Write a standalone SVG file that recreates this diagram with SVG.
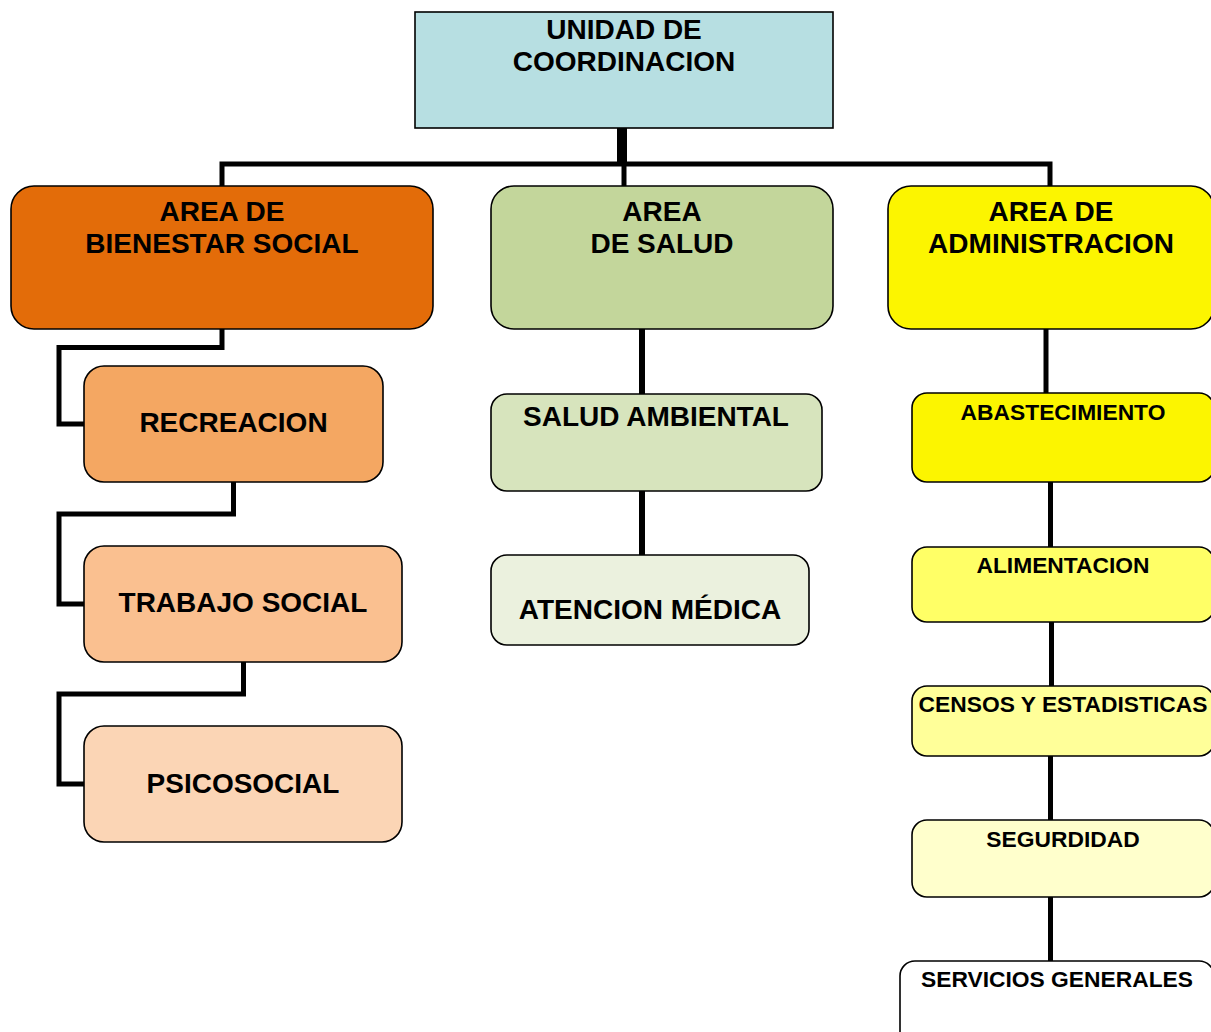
<svg xmlns="http://www.w3.org/2000/svg" width="1211" height="1032" viewBox="0 0 1211 1032">
<style>
.box{stroke:#000;stroke-width:1.6}
.t{font-family:"Liberation Sans",Arial,sans-serif;font-weight:bold;fill:#000;text-anchor:middle}
.big{font-size:28px}
.sm{font-size:22.8px}
.c{fill:none;stroke:#000;stroke-width:5;stroke-linejoin:miter;stroke-linecap:butt}
</style>
<rect width="1211" height="1032" fill="#fff"/>
<g id="connectors">
<rect x="617" y="128" width="10" height="36" fill="#000"/>
<path class="c" d="M624,164 V186"/>
<path class="c" d="M222,186 V164 H1050 V186"/>
<path class="c" d="M222,329 V347.5 H59 V424 H84"/>
<path class="c" d="M233.5,482 V514 H59 V604 H84"/>
<path class="c" d="M243.5,662 V694 H59 V784 H84"/>
<path class="c" style="stroke-width:6" d="M642,329 V394"/>
<path class="c" style="stroke-width:6" d="M642,491 V555"/>
<path class="c" d="M1046,329 V393"/>
<path class="c" d="M1050.5,482 V547"/>
<path class="c" d="M1051.5,622 V686"/>
<path class="c" d="M1050.5,756 V820"/>
<path class="c" d="M1050.5,897 V961"/>
</g>
<g id="unidad">
<rect class="box" x="415" y="12" width="418" height="116" fill="#B7DFE2"/>
<text class="t big" x="624" y="39">UNIDAD DE</text>
<text class="t big" x="624" y="71">COORDINACION</text>
</g>
<g id="bienestar">
<rect class="box" x="11" y="186" width="422" height="143" rx="23" fill="#E36C09"/>
<text class="t big" x="222" y="221">AREA DE</text>
<text class="t big" x="222" y="253">BIENESTAR SOCIAL</text>
</g>
<g id="salud">
<rect class="box" x="491" y="186" width="342" height="143" rx="23" fill="#C3D69B"/>
<text class="t big" x="662" y="221">AREA</text>
<text class="t big" x="662" y="253">DE SALUD</text>
</g>
<g id="administracion">
<rect class="box" x="888" y="186" width="326" height="143" rx="23" fill="#FCF500"/>
<text class="t big" x="1051" y="221">AREA DE</text>
<text class="t big" x="1051" y="253">ADMINISTRACION</text>
</g>
<g id="recreacion">
<rect class="box" x="84" y="366" width="299" height="116" rx="20" fill="#F4A762"/>
<text class="t big" x="233.5" y="432">RECREACION</text>
</g>
<g id="trabajo">
<rect class="box" x="84" y="546" width="318" height="116" rx="20" fill="#FAC090"/>
<text class="t big" x="243" y="612">TRABAJO SOCIAL</text>
</g>
<g id="psicosocial">
<rect class="box" x="84" y="726" width="318" height="116" rx="20" fill="#FBD5B5"/>
<text class="t big" x="243" y="793">PSICOSOCIAL</text>
</g>
<g id="salud-ambiental">
<rect class="box" x="491" y="394" width="331" height="97" rx="16" fill="#D7E4BD"/>
<text class="t big" x="656" y="426">SALUD AMBIENTAL</text>
</g>
<g id="atencion">
<rect class="box" x="491" y="555" width="318" height="90" rx="16" fill="#EBF1DE"/>
<text class="t big" x="650" y="619">ATENCION MÉDICA</text>
</g>
<g id="abastecimiento">
<rect class="box" x="912" y="393" width="302" height="89" rx="15" fill="#FCF500"/>
<text class="t sm" x="1063" y="420">ABASTECIMIENTO</text>
</g>
<g id="alimentacion">
<rect class="box" x="912" y="547" width="302" height="75" rx="15" fill="#FFFF66"/>
<text class="t sm" x="1063" y="573">ALIMENTACION</text>
</g>
<g id="censos">
<rect class="box" x="912" y="686" width="302" height="70" rx="15" fill="#FFFF99"/>
<text class="t sm" x="1063" y="712">CENSOS Y ESTADISTICAS</text>
</g>
<g id="seguridad">
<rect class="box" x="912" y="820" width="302" height="77" rx="15" fill="#FFFFCC"/>
<text class="t sm" x="1063" y="847">SEGURDIDAD</text>
</g>
<g id="servicios">
<rect class="box" x="900" y="961" width="314" height="90" rx="15" fill="#FFFFFF"/>
<text class="t sm" x="1057" y="987">SERVICIOS GENERALES</text>
</g>
</svg>
